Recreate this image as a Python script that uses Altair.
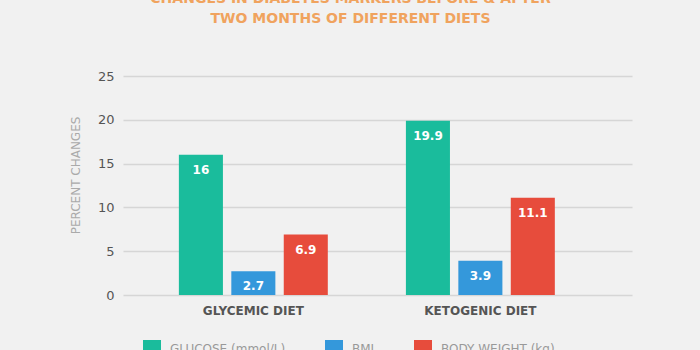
import altair as alt
import pandas as pd

diets = ["GLYCEMIC DIET", "KETOGENIC DIET"]
markers = ["GLUCOSE (mmol/L)", "BMI", "BODY WEIGHT (kg)"]
glucose = [16, 19.9]
bmi = [2.7, 3.9]
weight = [6.9, 11.1]
colors = ["#1abc9c", "#3498db", "#e74c3c"]

rows = []
for i, d in enumerate(diets):
    for m, vals in zip(markers, [glucose, bmi, weight]):
        v = vals[i]
        rows.append({"diet": d, "marker": m, "value": v, "label": f"{v:g}"})
df = pd.DataFrame(rows)

FONT = "DejaVu Sans"

x = alt.X("diet:N", sort=diets, title=None,
          scale=alt.Scale(paddingInner=0.344, paddingOuter=0.293, align=0.42),
          axis=alt.Axis(labelAngle=0, ticks=False, domain=False, labelPadding=10,
                        labelFont=FONT, labelFontSize=12, labelFontWeight="bold",
                        labelColor="#555555"))
xo = alt.XOffset("marker:N", sort=markers,
                 scale=alt.Scale(paddingInner=0.16, paddingOuter=0))
y = alt.Y("value:Q", title="PERCENT CHANGES",
          scale=alt.Scale(domain=[0, 25]),
          axis=alt.Axis(values=[0, 5, 10, 15, 20, 25], ticks=False, domain=False,
                        labelPadding=9, labelFont=FONT, labelFontSize=13,
                        labelColor="#555555", gridColor="#d6d6d6", gridWidth=1.5,
                        titleFont=FONT, titleFontSize=12, titleFontWeight="normal",
                        titleColor="#aaaaaa", titleX=-48, titleY=99,
                        titleBaseline="middle"))
color = alt.Color("marker:N", sort=markers,
                  scale=alt.Scale(domain=markers, range=colors),
                  legend=alt.Legend(title=None, orient="none", direction="horizontal",
                                    legendX=20, legendY=264, symbolType="square",
                                    symbolSize=324, symbolStrokeWidth=0,
                                    symbolOpacity=1, labelFont=FONT, labelFontSize=12,
                                    labelColor="#999999", labelOffset=9,
                                    columnPadding=39))

base = alt.Chart(df).encode(x=x, xOffset=xo, y=y)

bars = base.mark_bar(opacity=1).encode(color=color)
labels = base.mark_text(dy=15, color="white", font=FONT, fontSize=12,
                        fontWeight="bold", baseline="middle").encode(text="label:N")

chart = alt.layer(bars, labels).properties(
    width=509, height=219,
    padding={"left": 123, "top": 76, "right": 68, "bottom": 55},
    autosize=alt.AutoSizeParams(type="none"),
    background="#f1f1f1",
    title=alt.TitleParams(
        text=["CHANGES IN DIABETES MARKERS BEFORE & AFTER", "TWO MONTHS OF DIFFERENT DIETS"],
        font=FONT, fontSize=14, fontWeight="bold", color="#f0a35e",
        anchor="middle", offset=44, lineHeight=20, dx=-27),
).configure_view(stroke=None)

chart.save("out.html", embed_options={"renderer": "svg", "actions": False})
